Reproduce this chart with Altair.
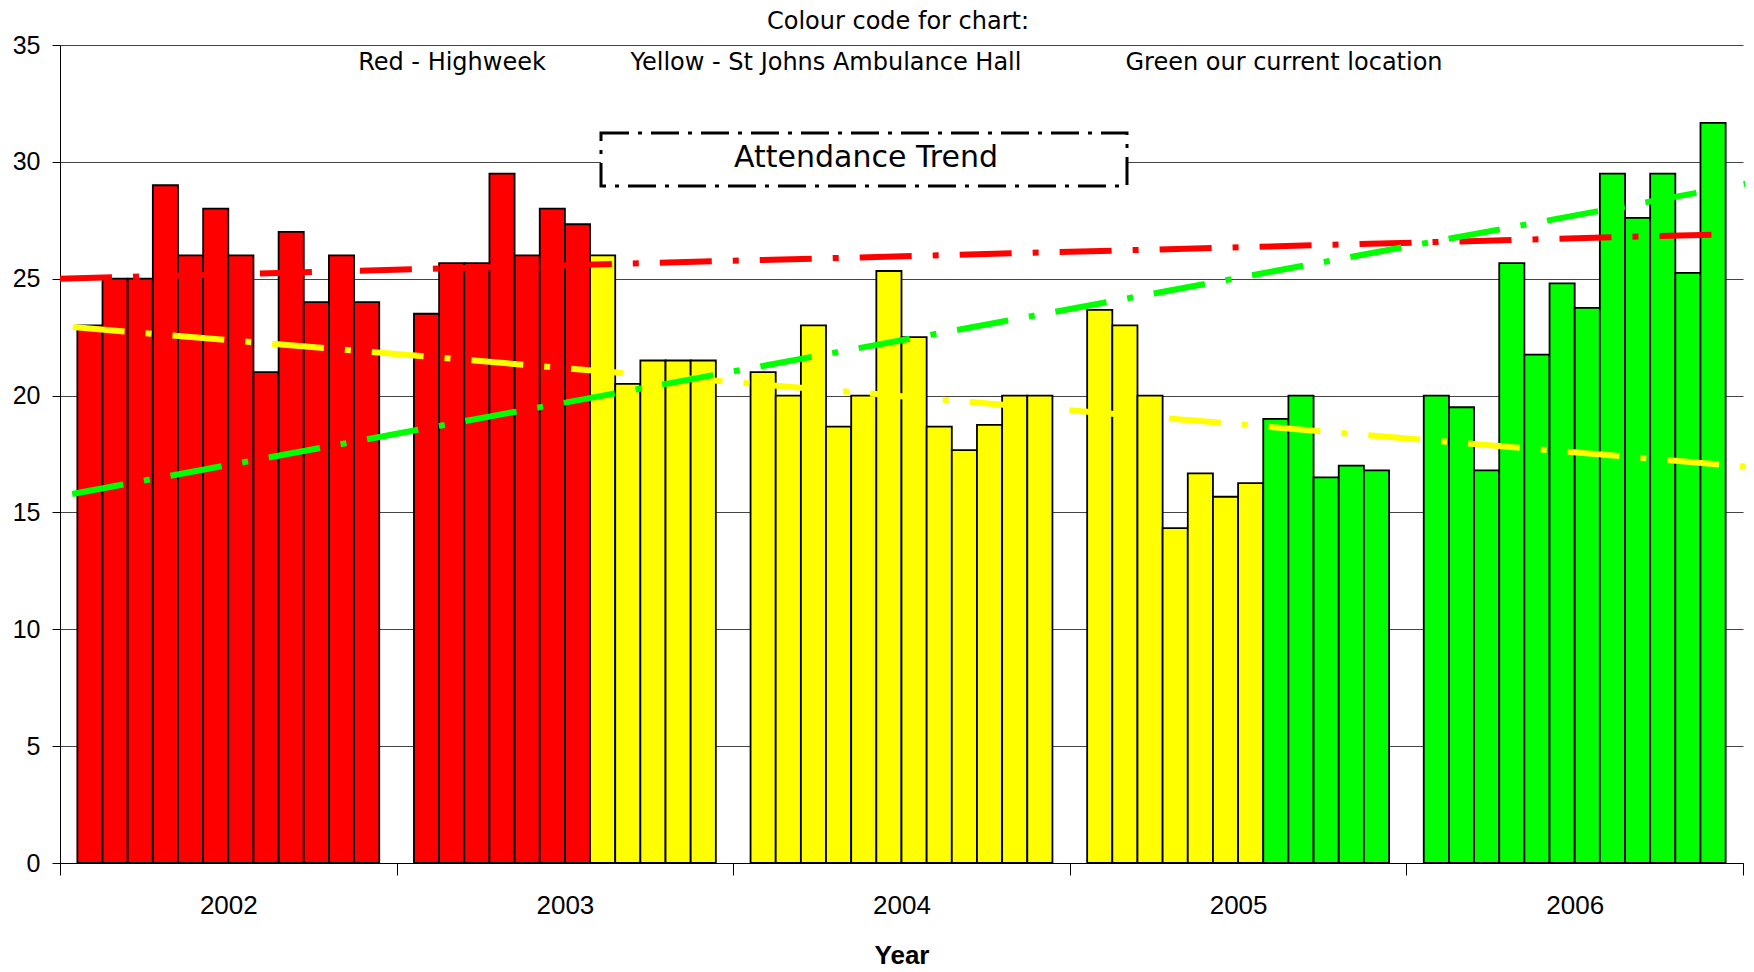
import altair as alt
import pandas as pd

# ---- data ----
years = ["2002", "2003", "2004", "2005", "2006"]
months = list(range(1, 13))

att_2002 = [23.0, 25.0, 25.0, 29.0, 26.0, 28.0, 26.0, 21.0, 27.0, 24.0, 26.0, 24.0]
att_2003 = [23.5, 25.67, 25.67, 29.5, 26.0, 28.0, 27.33, 26.0, 20.5, 21.5, 21.5, 21.5]
att_2004 = [21.0, 20.0, 23.0, 18.67, 20.0, 25.33, 22.5, 18.67, 17.67, 18.75, 20.0, 20.0]
att_2005 = [23.67, 23.0, 20.0, 14.33, 16.67, 15.67, 16.25, 19.0, 20.0, 16.5, 17.0, 16.8]
att_2006 = [20.0, 19.5, 16.8, 25.67, 21.75, 24.8, 23.75, 29.5, 27.6, 29.5, 25.25, 31.67]

locations = ["Highweek", "St Johns Ambulance Hall", "Current location"]
loc_colors = ["#FF0000", "#FFFF00", "#00FF00"]

loc_2002 = ["Highweek"] * 12
loc_2003 = ["Highweek"] * 7 + ["St Johns Ambulance Hall"] * 5
loc_2004 = ["St Johns Ambulance Hall"] * 12
loc_2005 = ["St Johns Ambulance Hall"] * 7 + ["Current location"] * 5
loc_2006 = ["Current location"] * 12

# trend lines: start / end position (in year-slot units) and value
trend_locations = ["Highweek", "St Johns Ambulance Hall", "Current location"]
trend_start_pos = [0.0, 0.038, 0.036]
trend_end_pos = [4.947, 5.033, 5.033]
trend_start_val = [25.0, 22.93, 15.79]
trend_end_val = [26.9, 16.93, 29.13]

# ---- tables ----
rows = []
for yr, vals, locs in zip(years,
                          [att_2002, att_2003, att_2004, att_2005, att_2006],
                          [loc_2002, loc_2003, loc_2004, loc_2005, loc_2006]):
    for m, v, l in zip(months, vals, locs):
        rows.append({"year": yr, "month": m, "attendance": v, "location": l})
bars_df = pd.DataFrame(rows)

trows = []
for l, sp, ep, sv, ev in zip(trend_locations, trend_start_pos, trend_end_pos,
                             trend_start_val, trend_end_val):
    trows.append({"location": l, "pos": sp, "value": sv})
    trows.append({"location": l, "pos": ep, "value": ev})
trend_df = pd.DataFrame(trows)

color_scale = alt.Scale(domain=locations, range=loc_colors)
AXIS_FONT = "Liberation Sans, Arial"
TEXT_FONT = "DejaVu Sans"

bars = alt.Chart(bars_df).mark_bar(stroke="black", strokeWidth=1.8).encode(
    x=alt.X("year:N", sort=years,
            scale=alt.Scale(paddingInner=0, paddingOuter=0),
            axis=alt.Axis(title="Year", labelAngle=0, tickBand="extent",
                          tickSize=12, tickColor="black", domainColor="black",
                          labelFont=AXIS_FONT, labelFontSize=26, labelColor="black",
                          labelPadding=17, titleFont=AXIS_FONT, titleFontSize=26,
                          titleFontWeight="bold", titleColor="black", titlePadding=24,
                          grid=False)),
    xOffset=alt.XOffset("month:O", scale=alt.Scale(paddingInner=0, paddingOuter=0.69)),
    y=alt.Y("attendance:Q",
            scale=alt.Scale(domain=[0, 35], nice=False),
            axis=alt.Axis(title=None, values=list(range(0, 36, 5)), tickSize=8,
                          tickColor="black", domainColor="black",
                          labelFont=AXIS_FONT, labelFontSize=25, labelColor="black",
                          labelPadding=12, grid=True, gridColor="#444444",
                          gridWidth=1.2, minExtent=52, maxExtent=52)),
    color=alt.Color("location:N", scale=color_scale, legend=None),
)

trend = alt.Chart(trend_df).mark_line(strokeWidth=6, strokeDash=[52, 21, 6, 21]).encode(
    x=alt.X("pos:Q", scale=alt.Scale(domain=[0, 5], nice=False, zero=False), axis=None),
    y=alt.Y("value:Q"),
    color=alt.Color("location:N", scale=color_scale, legend=None),
    detail="location:N",
)

box_df = pd.DataFrame({"label": ["Attendance Trend"]})
box = alt.Chart(box_df).mark_rect(fill="white", stroke="black", strokeWidth=3,
                                  strokeDash=[28, 9, 4, 9]).encode(
    x=alt.value(541), x2=alt.value(1067), y=alt.value(88), y2=alt.value(141))
box_text = alt.Chart(box_df).mark_text(font=TEXT_FONT, fontSize=30, color="black").encode(
    text="label:N", x=alt.value(806), y=alt.value(113))


def note(txt, px, py, size=24):
    return alt.Chart(pd.DataFrame({"t": [txt]})).mark_text(
        font=TEXT_FONT, fontSize=size, color="black").encode(
        text="t:N", x=alt.value(px), y=alt.value(py))


notes = [
    note("Colour code for chart:", 838, -23),
    note("Red - Highweek", 392, 18),
    note("Yellow - St Johns Ambulance Hall", 766, 18),
    note("Green our current location", 1224, 18),
]

chart = alt.layer(bars, trend, box, box_text, *notes).resolve_scale(
    x="independent"
).properties(
    width=1683, height=818,
    autosize=alt.AutoSizeParams(type="none"),
    padding={"left": 52, "top": 37, "right": 2, "bottom": 106},
    background="white",
).configure_view(stroke=None)

chart.save("out.html", embed_options={"renderer": "svg", "actions": False})
